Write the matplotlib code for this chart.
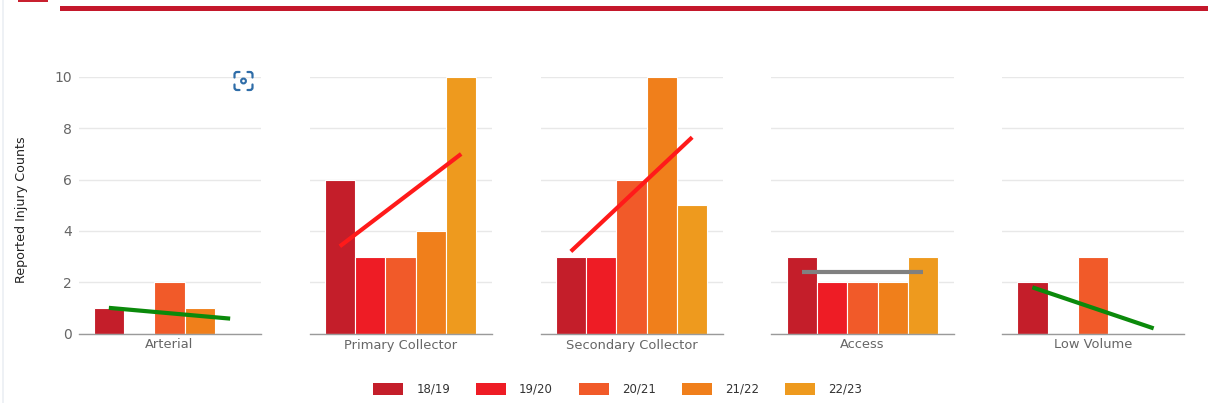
import matplotlib
matplotlib.use("Agg")
import matplotlib.pyplot as plt
from matplotlib.patches import Rectangle, Circle, Patch, PathPatch
from matplotlib.path import Path

categories = ["Arterial", "Primary Collector", "Secondary Collector", "Access", "Low Volume"]
seasons = ["18/19", "19/20", "20/21", "21/22", "22/23"]
s1819 = [1, 6, 3, 3, 2]
s1920 = [0, 3, 3, 2, 0]
s2021 = [2, 3, 6, 2, 3]
s2122 = [1, 4, 10, 2, 0]
s2223 = [0, 10, 5, 3, 0]
series = [s1819, s1920, s2021, s2122, s2223]
colors = ["#C41E2A", "#EE1C25", "#F15A29", "#F07F1B", "#EE9A1E"]
trend_start = [1.0, 3.4, 3.2, 2.4, 1.8]
trend_end = [0.58, 7.0, 7.65, 2.4, 0.2]
trend_colors = ["#0B8A0B", "#FF1A1A", "#FF1A1A", "#808080", "#0B8A0B"]
yticks = [0, 2, 4, 6, 8, 10]

W, H = 1208, 403
fig = plt.figure(figsize=(W / 100, H / 100), dpi=100, facecolor="white")
plt.rcParams["font.family"] = "DejaVu Sans"

y0, y10 = 333.5, 77.0
lefts = [78.5, 309.5, 540.5, 771.5, 1002.0]
pw = 182.0
for i, cat in enumerate(categories):
    ax = fig.add_axes([lefts[i] / W, (H - y0) / H, pw / W, (y0 - y10) / H])
    ax.set_xlim(-1.0, 5.0)
    ax.set_ylim(0, 10)
    ax.set_facecolor("none")
    ax.set_axisbelow(True)
    ax.grid(axis="y", color="#E8E8E8", lw=1)
    for v, vals in enumerate(series):
        ax.bar(v, vals[i], width=1.0, color=colors[v], edgecolor="white", linewidth=0.8, zorder=2)
    ax.plot([0, 4], [trend_start[i], trend_end[i]], color=trend_colors[i], lw=3,
            solid_capstyle="butt", zorder=3, clip_on=False)
    for s in ("top", "left", "right"):
        ax.spines[s].set_visible(False)
    ax.spines["bottom"].set_color("#9A9A9A")
    ax.spines["bottom"].set_linewidth(1)
    ax.set_xticks([2])
    ax.set_xticklabels([cat], fontsize=9.4, color="#666666")
    ax.tick_params(axis="x", length=0, pad=3.6)
    ax.set_yticks(yticks)
    if i == 0:
        ax.tick_params(axis="y", length=0, pad=4.5, labelsize=10, labelcolor="#666666")
    else:
        ax.tick_params(axis="y", length=0, labelleft=False)

fig.text(22 / W, (H - 210) / H, "Reported Injury Counts", rotation=90, ha="center", va="center",
         fontsize=9.1, color="#222222")

# Page chrome and toolbar icon in pixel coordinates
ov = fig.add_axes([0, 0, 1, 1], zorder=10)
ov.set_xlim(0, W)
ov.set_ylim(H, 0)
ov.axis("off")
ov.add_patch(Rectangle((60, 5.5), W - 60, 5, color="#C4182B", lw=0))
ov.add_patch(Rectangle((18, 0), 30, 1.5, color="#C8202F", lw=0))
ov.add_patch(Rectangle((2, 0), 1.5, H, color="#EEF1F5", lw=0))
ic = "#2F6DA8"
cx, cy, r = 243.5, 81, 9
for sx in (-1, 1):
    for sy in (-1, 1):
        verts = [(cx + sx * r, cy + sy * 3.5), (cx + sx * r, cy + sy * (r - 2.5)),
                 (cx + sx * r, cy + sy * r), (cx + sx * (r - 2.5), cy + sy * r),
                 (cx + sx * 4, cy + sy * r)]
        codes = [Path.MOVETO, Path.LINETO, Path.CURVE3, Path.CURVE3, Path.LINETO]
        ov.add_patch(PathPatch(Path(verts, codes), fill=False, ec=ic, lw=1.6, capstyle="round"))
ov.add_patch(Circle((cx, cy), 2.4, fill=False, ec=ic, lw=1.5))

handles = [Patch(facecolor=c, edgecolor="none", label=s) for c, s in zip(colors, seasons)]
fig.legend(handles=handles, loc="center", bbox_to_anchor=(617.5 / W, (H - 389.5) / H), ncol=5,
           frameon=False, fontsize=8.5, handlelength=2.54, handleheight=1.15, handletextpad=1.1,
           columnspacing=2.2, labelcolor="#333333", borderpad=0, borderaxespad=0)

fig.savefig("out.png", dpi=100, facecolor="white")
